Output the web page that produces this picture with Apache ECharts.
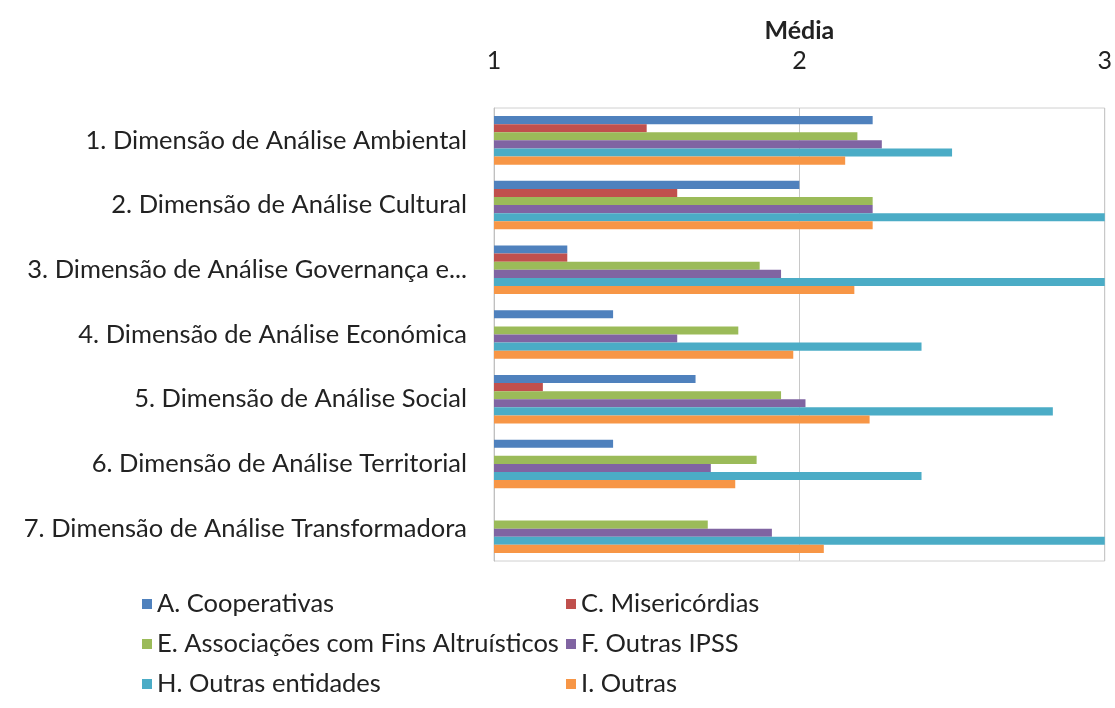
<!DOCTYPE html>
<html>
<head>
<meta charset="utf-8">
<script src="https://cdn.jsdelivr.net/npm/echarts@6/dist/echarts.min.js"></script>
<style>
  html, body { margin: 0; padding: 0; background: #fff; }
  #chart { width: 1115px; height: 708px; }
</style>
</head>
<body>
<div id="chart"></div>
<script>
// Categories (top to bottom)
const categories = [
  '1. Dimensão de Análise Ambiental',
  '2. Dimensão de Análise Cultural',
  '3. Dimensão de Análise Governança e...',
  '4. Dimensão de Análise Económica',
  '5. Dimensão de Análise Social',
  '6. Dimensão de Análise Territorial',
  '7. Dimensão de Análise Transformadora'
];

// Series values (null = no bar)
const cooperativas = [2.24, 2.00, 1.24, 1.39, 1.66, 1.39, null];
const misericordias = [1.50, 1.60, 1.24, null, 1.16, null, null];
const associacoes = [2.19, 2.24, 1.87, 1.80, 1.94, 1.86, 1.70];
const outrasIpss = [2.27, 2.24, 1.94, 1.60, 2.02, 1.71, 1.91];
const outrasEntidades = [2.50, 3.00, 3.00, 2.40, 2.83, 2.40, 3.00];
const outras = [2.15, 2.24, 2.18, 1.98, 2.23, 1.79, 2.08];

const xTicks = [1, 2, 3];

const chart = echarts.init(document.getElementById('chart'));

const FONT = 'Lato';
const TEXT_COLOR = '#222222';

const seriesDefs = [
  { name: 'A. Cooperativas', data: cooperativas, color: '#4F81BD' },
  { name: 'C. Misericórdias', data: misericordias, color: '#C0504D' },
  { name: 'E. Associações com Fins Altruísticos', data: associacoes, color: '#9BBB59' },
  { name: 'F. Outras IPSS', data: outrasIpss, color: '#8064A2' },
  { name: 'H. Outras entidades', data: outrasEntidades, color: '#4BACC6' },
  { name: 'I. Outras', data: outras, color: '#F79646' }
];

const legendText = { fontFamily: FONT, fontSize: 25.5, lineHeight: 26, color: TEXT_COLOR };

const legendBase = {
  orient: 'vertical',
  top: 586,
  itemWidth: 10,
  itemHeight: 10,
  itemGap: 14,
  icon: 'rect',
  textStyle: legendText
};

const option = {
  animation: false,
  textStyle: { fontFamily: FONT },
  grid: {
    left: 494,
    right: 8,
    top: 108,
    bottom: 147,
    show: true,
    borderColor: '#d0d0d0',
    borderWidth: 1
  },
  legend: [
    Object.assign({}, legendBase, {
      left: 137,
      data: ['A. Cooperativas', 'E. Associações com Fins Altruísticos', 'H. Outras entidades']
    }),
    Object.assign({}, legendBase, {
      left: 561,
      data: ['C. Misericórdias', 'F. Outras IPSS', 'I. Outras']
    })
  ],
  xAxis: {
    type: 'value',
    position: 'top',
    min: xTicks[0],
    max: xTicks[xTicks.length - 1],
    interval: 1,
    name: 'Média',
    nameLocation: 'middle',
    nameGap: 65,
    nameTextStyle: { fontFamily: FONT, fontSize: 25, fontWeight: 'bold', color: TEXT_COLOR },
    axisLine: { show: false },
    axisTick: { show: false },
    axisLabel: { margin: 35, fontFamily: FONT, fontSize: 25, color: TEXT_COLOR },
    splitLine: { show: true, lineStyle: { color: '#c8c8c8', width: 1 } }
  },
  yAxis: {
    type: 'category',
    data: categories,
    inverse: true,
    axisLine: { show: true, lineStyle: { color: '#c0c0c0' } },
    axisTick: { show: false },
    axisLabel: { margin: 27, fontFamily: FONT, fontSize: 25.5, color: TEXT_COLOR }
  },
  series: seriesDefs.map(s => ({
    name: s.name,
    type: 'bar',
    data: s.data,
    itemStyle: { color: s.color },
    barGap: '0%',
    barCategoryGap: '25%'
  }))
};

chart.setOption(option);
</script>
</body>
</html>
